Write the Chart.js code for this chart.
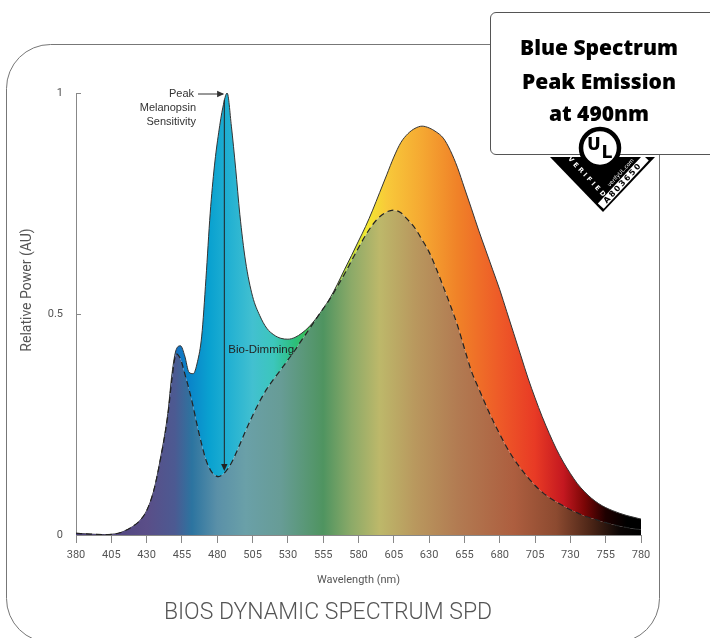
<!DOCTYPE html>
<html>
<head>
<meta charset="utf-8">
<script src="https://cdn.jsdelivr.net/npm/chart.js@4.4.1/dist/chart.umd.min.js"></script>
<style>
  html, body { margin: 0; padding: 0; background: #fff; }
  #wrap { position: relative; width: 710px; height: 638px; overflow: hidden; }
  #frame, #logo { position: absolute; left: 0; top: 0; }
  #chartBox { position: absolute; left: 0; top: 0; width: 710px; height: 638px; }
  #callout {
    position: absolute; left: 490px; top: 12px; width: 240px; height: 143px;
    border: 1px solid #555; border-radius: 6px; background: #fff; box-sizing: border-box;
  }
  #callout div {
    position: absolute; left: 0; width: 216px; text-align: center;
    font-family: "Open Sans", sans-serif; font-weight: 800; font-size: 21px; color: #000;
  }
  #mainTitle {
    position: absolute; left: 0; width: 656px; top: 598px; text-align: center;
    font-family: Roboto, sans-serif; font-weight: 300; font-size: 23px; color: #555;
  }
</style>
</head>
<body>
<div id="wrap">
  <svg id="frame" width="710" height="638">
    <rect x="6.5" y="44.5" width="653" height="598" rx="44" ry="44" fill="none" stroke="#777" stroke-width="1"/>
  </svg>
  <div id="chartBox"><canvas id="chart-spd"></canvas></div>
  <div id="mainTitle">BIOS DYNAMIC SPECTRUM SPD</div>
  <div id="callout">
    <div style="top:20px">Blue Spectrum</div>
    <div style="top:54px">Peak Emission</div>
    <div style="top:86px">at 490nm</div>
  </div>
  <svg id="logo" width="710" height="638">
    <polygon points="550,157 655,157 603,212" fill="#000"/>
    <g transform="translate(628,185) rotate(-47)">
      <rect x="-34" y="-9.5" width="66" height="8" fill="#fff"/>
      <text x="-2" y="-2.8" text-anchor="middle" font-family="DejaVu Sans" font-weight="bold" font-size="8" letter-spacing="1.8" fill="#000">A803650</text>
      <text x="4" y="-12" text-anchor="middle" font-family="DejaVu Sans" font-size="5.5" fill="#fff">verifyUL.com</text>
    </g>
    <g transform="translate(584,181) rotate(47)">
      <text x="0" y="-3" text-anchor="middle" font-family="DejaVu Sans" font-weight="bold" font-size="6.5" letter-spacing="2.6" fill="#fff">VERIFIED</text>
    </g>
    <circle cx="600" cy="148" r="19" fill="#fff" stroke="#000" stroke-width="4.5"/>
    <text x="594" y="150" text-anchor="middle" font-family="DejaVu Sans" font-weight="bold" font-size="17" fill="#000">U</text>
    <text x="607" y="158" text-anchor="middle" font-family="DejaVu Sans" font-weight="bold" font-size="17" fill="#000">L</text>
  </svg>
</div>
<script>
// wavelength grid (nm) and the two spectra
const wavelengths = [380, 390, 400, 410, 415, 420, 425, 430, 435, 440, 445, 448, 451, 454, 457, 460, 463, 466, 469, 472,
  475, 478, 481, 484, 487, 490, 493, 496, 500, 505, 510, 515, 520, 525, 530, 535, 540, 545, 550, 555,
  560, 565, 570, 575, 580, 585, 590, 595, 600, 605, 610, 615, 620, 625, 630, 635, 640, 645, 650, 655,
  660, 665, 670, 675, 680, 685, 690, 695, 700, 705, 710, 715, 720, 725, 730, 735, 740, 745, 750, 755,
  760, 765, 770, 775, 780];

const fullPower = [0.004, 0.002, 0.001, 0.004, 0.010, 0.019, 0.032, 0.055, 0.100, 0.177, 0.275, 0.366, 0.420, 0.428, 0.405, 0.368, 0.365, 0.392, 0.450, 0.580,
  0.728, 0.835, 0.910, 0.968, 1.000, 0.925, 0.830, 0.725, 0.620, 0.540, 0.497, 0.468, 0.453, 0.445, 0.443, 0.447, 0.457, 0.471, 0.490, 0.512,
  0.537, 0.567, 0.600, 0.632, 0.665, 0.698, 0.735, 0.775, 0.815, 0.855, 0.888, 0.908, 0.920, 0.925, 0.921, 0.912, 0.898, 0.870, 0.832, 0.785,
  0.738, 0.690, 0.645, 0.600, 0.555, 0.505, 0.455, 0.405, 0.355, 0.310, 0.268, 0.230, 0.195, 0.165, 0.139, 0.116, 0.098, 0.083, 0.071, 0.062,
  0.055, 0.049, 0.044, 0.040, 0.036];

const dimmedPower = [0.004, 0.002, 0.001, 0.004, 0.010, 0.019, 0.032, 0.055, 0.100, 0.175, 0.270, 0.355, 0.410, 0.398, 0.365, 0.330, 0.290, 0.245, 0.205, 0.170,
  0.148, 0.136, 0.132, 0.137, 0.148, 0.163, 0.183, 0.205, 0.235, 0.270, 0.302, 0.330, 0.353, 0.374, 0.396, 0.418, 0.442, 0.465, 0.489, 0.512,
  0.535, 0.562, 0.590, 0.620, 0.650, 0.678, 0.702, 0.720, 0.731, 0.735, 0.729, 0.713, 0.694, 0.668, 0.640, 0.603, 0.562, 0.520, 0.475, 0.422,
  0.370, 0.332, 0.295, 0.260, 0.228, 0.198, 0.172, 0.150, 0.130, 0.112, 0.097, 0.085, 0.075, 0.066, 0.057, 0.050, 0.043, 0.038, 0.033, 0.028,
  0.024, 0.020, 0.017, 0.014, 0.012];

const xTicks = [380, 405, 430, 455, 480, 505, 530, 555, 580, 605, 630, 655, 680, 705, 730, 755, 780];
const yTicks = [0, 0.5, 1];

const peakNm = 487;
const dimArrowNm = 485;

// colour stops along the wavelength axis
const brightStops = [[380, '#3a2f80'], [440, '#2a55b0'], [458, '#0a80c8'], [475, '#0aa2d0'], [490, '#25b2d2'],
  [505, '#42c0d0'], [520, '#3cc6bc'], [535, '#2cbf7a'], [550, '#44c040'], [568, '#a6d43c'], [585, '#f2ea30'],
  [600, '#f8c93a'], [625, '#f5a832'], [650, '#f08228'], [680, '#ee5a28'], [705, '#e83a25'], [725, '#c41820'],
  [740, '#7a0606'], [755, '#1e0000'], [770, '#000000'], [780, '#000000']];
const mutedStops = [[380, '#4a3f78'], [430, '#5a4e88'], [450, '#4c5a92'], [462, '#2c74a0'], [480, '#5a90a8'],
  [500, '#6aa0a8'], [525, '#679c96'], [555, '#4f9460'], [575, '#8caa68'], [595, '#bdb86a'], [620, '#b9985e'],
  [650, '#b27b52'], [690, '#ad5e3f'], [720, '#8c4a30'], [745, '#4a2416'], [765, '#0c0605'], [780, '#000000']];

function spectrumFill(stops) {
    return function (context) {
        const chart = context.chart;
        const x = chart.scales.x;
        if (!chart.chartArea || !x) return 'rgba(0,0,0,0)';
        const g = chart.ctx.createLinearGradient(x.left, 0, x.right, 0);
        stops.forEach(([nm, c]) => g.addColorStop((nm - 380) / 400, c));
        return g;
    };
}

function arrowHead(ctx, x, y, dir) {
    // dir: 'right' or 'down'
    ctx.beginPath();
    if (dir === 'right') {
        ctx.moveTo(x, y); ctx.lineTo(x - 7, y - 3.2); ctx.lineTo(x - 7, y + 3.2);
    } else {
        ctx.moveTo(x, y); ctx.lineTo(x - 3.2, y - 7); ctx.lineTo(x + 3.2, y - 7);
    }
    ctx.closePath();
    ctx.fill();
}

const annotations = {
    id: 'annotations',
    afterDatasetsDraw(chart) {
        const { ctx, scales: { x, y }, chartArea } = chart;
        ctx.save();
        // inner y ticks
        ctx.strokeStyle = '#888';
        ctx.lineWidth = 1;
        yTicks.forEach(v => {
            const py = Math.round(y.getPixelForValue(v)) + 0.5;
            ctx.beginPath();
            ctx.moveTo(chartArea.left, py);
            ctx.lineTo(chartArea.left + 5, py);
            ctx.stroke();
        });

        // y axis title, sits a bit above the axis middle
        ctx.save();
        ctx.translate(27, 290);
        ctx.rotate(-Math.PI / 2);
        ctx.fillStyle = '#555';
        ctx.font = '14px Roboto, sans-serif';
        ctx.textAlign = 'center';
        ctx.textBaseline = 'middle';
        ctx.fillText('Relative Power (AU)', 0, 0);
        ctx.restore();

        // peak melanopsin label + arrow
        const px = x.getPixelForValue(peakNm);
        const py = y.getPixelForValue(1);
        ctx.fillStyle = '#333';
        ctx.strokeStyle = '#333';
        ctx.font = '11px "Liberation Sans", Arial, sans-serif';
        ctx.textAlign = 'right';
        ctx.textBaseline = 'middle';
        ctx.fillText('Peak', 194, py + 1);
        ctx.fillText('Melanopsin', 196, py + 15);
        ctx.fillText('Sensitivity', 196, py + 29);
        ctx.beginPath();
        ctx.moveTo(198, py + 1);
        ctx.lineTo(px - 4, py + 1);
        ctx.stroke();
        arrowHead(ctx, px - 3, py + 1, 'right');

        // bio-dimming vertical arrow
        const ax = x.getPixelForValue(dimArrowNm);
        const top = y.getPixelForValue(0.985);
        const bottom = y.getPixelForValue(0.145);
        ctx.strokeStyle = '#222';
        ctx.fillStyle = '#222';
        ctx.beginPath();
        ctx.moveTo(ax, top);
        ctx.lineTo(ax, bottom - 4);
        ctx.stroke();
        arrowHead(ctx, ax, bottom, 'down');
        ctx.textAlign = 'left';
        ctx.font = '11.5px "Liberation Sans", Arial, sans-serif';
        ctx.fillText('Bio-Dimming', ax + 4, y.getPixelForValue(0.42));
        ctx.restore();
    }
};

const toPoints = vals => wavelengths.map((w, i) => ({ x: w, y: vals[i] }));

const ctx = document.getElementById('chart-spd').getContext('2d');
new Chart(ctx, {
    type: 'line',
    data: {
        datasets: [{
            label: 'Bio-Dimmed',
            data: toPoints(dimmedPower),
            fill: 'origin',
            backgroundColor: spectrumFill(mutedStops),
            borderColor: '#222',
            borderWidth: 1.2,
            borderDash: [6, 4],
            pointRadius: 0,
            cubicInterpolationMode: 'monotone'
        }, {
            label: 'Full Spectrum',
            data: toPoints(fullPower),
            fill: '-1',
            backgroundColor: spectrumFill(brightStops),
            borderColor: '#333',
            borderWidth: 1,
            pointRadius: 0,
            cubicInterpolationMode: 'monotone'
        }]
    },
    options: {
        responsive: true,
        maintainAspectRatio: false,
        animation: false,
        layout: { padding: { top: 93, right: 69, bottom: 48, left: 0 } },
        plugins: { legend: { display: false }, tooltip: { enabled: false } },
        scales: {
            x: {
                type: 'linear',
                min: 380,
                max: 780,
                afterBuildTicks: s => { s.ticks = xTicks.map(v => ({ value: v })); },
                afterFit: s => { s.height = 55; },
                grid: { drawOnChartArea: false, drawTicks: true, tickLength: 8, color: '#888' },
                border: { color: '#888' },
                ticks: { autoSkip: false, maxRotation: 0, padding: 6, color: '#555',
                         font: { family: 'Roboto', size: 11 } },
                title: { display: true, text: 'Wavelength (nm)', color: '#555', padding: { top: 0, bottom: 3 },
                         font: { family: 'Roboto', size: 11 } }
            },
            y: {
                min: 0,
                max: 1,
                afterBuildTicks: s => { s.ticks = yTicks.map(v => ({ value: v })); },
                afterFit: s => { s.width = 76; },
                grid: { drawOnChartArea: false, drawTicks: false },
                border: { color: '#888' },
                ticks: { padding: 13, color: '#555', callback: v => String(v),
                         font: { family: 'Roboto', size: 11 } }
            }
        }
    },
    plugins: [annotations]
});
</script>
</body>
</html>
